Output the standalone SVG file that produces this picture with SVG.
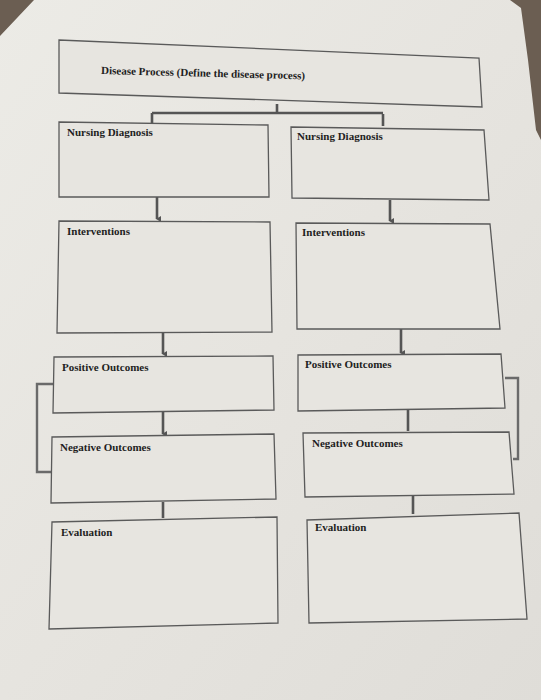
<svg xmlns="http://www.w3.org/2000/svg" width="541" height="700" viewBox="0 0 541 700">
<defs>
<style>
.box{fill:#e7e5e0;stroke:#5a5a5a;stroke-width:1.3}
.lbl{font-family:"Liberation Serif","Times New Roman",serif;font-weight:bold;font-size:11px;fill:#1e1e1e}
.con{fill:none;stroke:#555;stroke-width:2.6}
.side{fill:none;stroke:#6a6a6a;stroke-width:2.4}
</style>
<marker id="ah" markerWidth="6" markerHeight="6" refX="3" refY="5" orient="auto" markerUnits="userSpaceOnUse" viewBox="0 0 6 6">
<path d="M0,1 L3,6 L6,1 Z" fill="#555"/>
</marker>
<linearGradient id="paper" x1="0" y1="0" x2="1" y2="1">
<stop offset="0" stop-color="#ecebe6"/>
<stop offset="0.5" stop-color="#e6e4df"/>
<stop offset="1" stop-color="#dfddd8"/>
</linearGradient>
</defs>
<rect x="0" y="0" width="541" height="700" fill="#6b5e52"/>
<polygon points="0,36 34,0 510,0 521,8 528,60 532,95 536,130 541,140 541,700 0,700" fill="url(#paper)"/>

<g id="connectors">
<path class="con" d="M277,104 V113 M152,113 H383 M152,113 V123 M383,114 V126" />
<path class="con" d="M157,197 V219" marker-end="url(#ah)"/>
<path class="con" d="M390,200 V221" marker-end="url(#ah)"/>
<path class="con" d="M163,333 V354" marker-end="url(#ah)"/>
<path class="con" d="M401,329 V353" marker-end="url(#ah)"/>
<path class="con" d="M163,412 V434" marker-end="url(#ah)"/>
<path class="con" d="M408,409 V431"/>
<path class="con" d="M163,502 V518" stroke="#777"/>
<path class="con" d="M413,496 V514" stroke="#777"/>
<path class="side" d="M54,384 H37 V472 H52"/>
<path class="side" d="M505,378 H518 V459 H513"/>
</g>

<g id="disease-process">
<polygon class="box" points="59,40 479,58 482,107 59,93"/>
<text class="lbl" x="101" y="74" transform="rotate(1.5 101 74)">Disease Process (Define the disease process)</text>
</g>

<g id="nursing-diagnosis-left">
<polygon class="box" points="59,122 268,125 269,197 59,197"/>
<text class="lbl" x="67" y="136">Nursing Diagnosis</text>
</g>
<g id="nursing-diagnosis-right">
<polygon class="box" points="291,127 484,130 489,200 292,198"/>
<text class="lbl" x="297" y="140">Nursing Diagnosis</text>
</g>

<g id="interventions-left">
<polygon class="box" points="59,221 270,222 272,332 57,333"/>
<text class="lbl" x="67" y="235">Interventions</text>
</g>
<g id="interventions-right">
<polygon class="box" points="296,223 490,224 500,329 297,329"/>
<text class="lbl" x="302" y="236">Interventions</text>
</g>

<g id="positive-outcomes-left">
<polygon class="box" points="54,357 273,356 274,410 53,413"/>
<text class="lbl" x="62" y="371">Positive Outcomes</text>
</g>
<g id="positive-outcomes-right">
<polygon class="box" points="298,355 501,354 505,408 298,411"/>
<text class="lbl" x="305" y="368">Positive Outcomes</text>
</g>

<g id="negative-outcomes-left">
<polygon class="box" points="52,437 274,434 276,499 51,503"/>
<text class="lbl" x="60" y="451">Negative Outcomes</text>
</g>
<g id="negative-outcomes-right">
<polygon class="box" points="303,433 509,432 514,494 305,497"/>
<text class="lbl" x="312" y="447">Negative Outcomes</text>
</g>

<g id="evaluation-left">
<polygon class="box" points="52,522 277,517 278,623 49,629"/>
<text class="lbl" x="61" y="536" fill="#333">Evaluation</text>
</g>
<g id="evaluation-right">
<polygon class="box" points="307,520 519,513 527,619 309,623"/>
<text class="lbl" x="315" y="531" fill="#333">Evaluation</text>
</g>
</svg>
